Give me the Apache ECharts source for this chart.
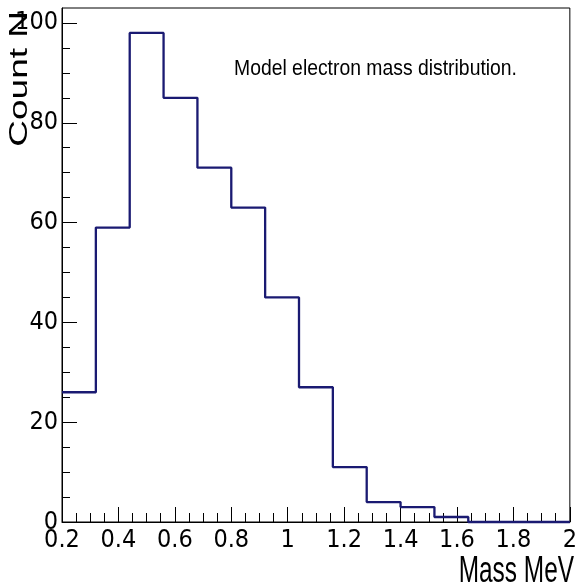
<!DOCTYPE html>
<html>
<head>
<meta charset="utf-8">
<script src="https://cdn.jsdelivr.net/npm/echarts@6/dist/echarts.min.js"></script>
<style>
  html, body { margin: 0; padding: 0; background: #fff; }
  #chart { width: 580px; height: 588px; }
</style>
</head>
<body>
<div id="chart"></div>
<script>
// ---- data ----
const binEdges = [0.2, 0.32, 0.44, 0.56, 0.68, 0.8, 0.92, 1.04, 1.16, 1.28, 1.4, 1.52, 1.64, 1.76, 1.88, 2.0];
const counts   = [26, 59, 98, 85, 71, 63, 45, 27, 11, 4, 3, 1, 0, 0, 0];
const yMajorTicks = [0, 20, 40, 60, 80, 100];
const yMinorTicks = [5, 10, 15, 25, 30, 35, 45, 50, 55, 65, 70, 75, 85, 90, 95];
const xTitle = 'Mass MeV';
const yTitle = 'Count N';
const note = 'Model electron mass distribution.';

// histogram outline points (left edge of each bin + final right edge)
const stepData = counts.map((c, i) => [binEdges[i], c]);
stepData.push([binEdges[binEdges.length - 1], counts[counts.length - 1]]);

const labelFont = '"Liberation Sans Narrow", "Arial Narrow", "DejaVu Sans Condensed", "Liberation Sans", sans-serif';
const chart = echarts.init(document.getElementById('chart'));

chart.setOption({
  animation: false,
  backgroundColor: '#fff',
  grid: {
    left: 62, right: 6, top: 8, bottom: 66,
    show: true, borderColor: '#000', borderWidth: 1, backgroundColor: 'transparent'
  },
  xAxis: {
    type: 'value',
    min: 0.2, max: 2.0, interval: 0.2,
    axisLine: { show: true, lineStyle: { color: '#000', width: 1 } },
    axisTick: { show: true, inside: true, length: 15, lineStyle: { color: '#000' } },
    minorTick: { show: true, splitNumber: 4, length: 9, lineStyle: { color: '#000' } },
    splitLine: { show: false },
    axisLabel: {
      color: '#000', fontSize: 25, fontFamily: labelFont, margin: 6,
      formatter: v => String(Math.round(v * 10) / 10)
    }
  },
  yAxis: [
    {
      type: 'value', min: 0, max: 103,
      axisLine: { show: true, lineStyle: { color: '#000', width: 1 } },
      axisTick: { show: true, inside: true, length: 15, customValues: yMajorTicks, lineStyle: { color: '#000' } },
      axisLabel: { color: '#000', fontSize: 25, fontFamily: labelFont, margin: 4, customValues: yMajorTicks },
      splitLine: { show: false }
    },
    {
      type: 'value', min: 0, max: 103, position: 'left',
      axisLine: { show: false },
      axisTick: { show: true, inside: true, length: 8, customValues: yMinorTicks, lineStyle: { color: '#000' } },
      axisLabel: { show: false },
      splitLine: { show: false }
    }
  ],
  series: [{
    type: 'line',
    step: 'end',
    data: stepData,
    showSymbol: false,
    clip: false,
    lineStyle: { color: '#1a1a72', width: 2.3 }
  }],
  graphic: [
    {
      type: 'text', x: 234, y: 69, scaleX: 0.88,
      style: { text: note, fill: '#000', font: '22px "Liberation Sans", Arial, sans-serif', textAlign: 'left', textVerticalAlign: 'middle' }
    },
    {
      type: 'text', x: 574, y: 572, scaleX: 0.66,
      style: { text: xTitle, fill: '#000', font: '37px "Liberation Sans", Arial, sans-serif', textAlign: 'right', textVerticalAlign: 'middle' }
    },
    {
      type: 'text', x: 20, y: 11, rotation: Math.PI / 2, scaleY: 0.7,
      style: { text: yTitle, fill: '#000', font: '37px "Liberation Sans", Arial, sans-serif', textAlign: 'right', textVerticalAlign: 'middle' }
    }
  ]
});
</script>
</body>
</html>
